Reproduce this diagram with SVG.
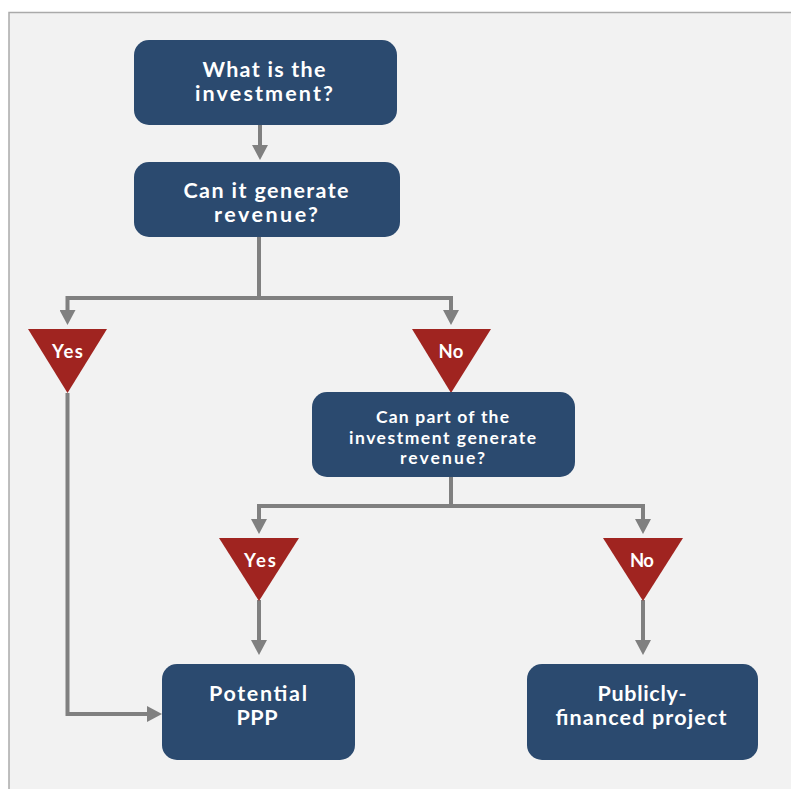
<svg xmlns="http://www.w3.org/2000/svg" width="791" height="789" viewBox="0 0 791 789">
  <style>
    .box { fill: #2B4A6F; }
    .tri { fill: #A02420; }
    .txt { fill: #FFFFFF; font-family: Lato, "Open Sans", "Liberation Sans", sans-serif; font-weight: bold; text-anchor: middle; }
    .big { font-size: 21.5px; }
    .mid { font-size: 17.5px; }
    .lbl { font-size: 18.5px; }
    .wire { fill: none; stroke: #808080; stroke-width: 4; stroke-linejoin: miter; marker-end: url(#head); }
  </style>
  <defs>
    <marker id="head" viewBox="0 0 15 16" refX="0" refY="8" markerWidth="15" markerHeight="16" markerUnits="userSpaceOnUse" orient="auto">
      <path d="M0,0 L15,8 L0,16 Z" fill="#808080"/>
    </marker>
  </defs>

  <!-- page background and frame -->
  <rect x="0" y="0" width="791" height="789" fill="#FFFFFF"/>
  <rect x="9" y="12" width="782" height="777" fill="#F2F2F2"/>
  <path d="M9,789 V12.5 H791" fill="none" stroke="#AAAAAA" stroke-width="1.5"/>

  <!-- connectors -->
  <g id="connectors">
    <path class="wire" d="M260,125 V145"/>
    <path class="wire" d="M259,237 V298 H67.5 V310"/>
    <path class="wire" d="M259,298 H451 V310"/>
    <path class="wire" d="M67.5,393 V714 H147"/>
    <path class="wire" d="M451,477 V506 H259 V519"/>
    <path class="wire" d="M451,506 H643 V519"/>
    <path class="wire" d="M259,600 V640"/>
    <path class="wire" d="M643,600 V640"/>
  </g>

  <!-- nodes -->
  <g id="q-investment">
    <rect class="box" x="134" y="40" width="263" height="85" rx="15"/>
    <text class="txt big" x="264" y="77" textLength="123" lengthAdjust="spacing">What is the</text>
    <text class="txt big" x="264" y="101" textLength="138" lengthAdjust="spacing">investment?</text>
  </g>

  <g id="q-revenue">
    <rect class="box" x="134" y="162" width="266" height="75" rx="15"/>
    <text class="txt big" x="266" y="198" textLength="165" lengthAdjust="spacing">Can it generate</text>
    <text class="txt big" x="266" y="222" textLength="104" lengthAdjust="spacing">revenue?</text>
  </g>

  <g id="yes-1">
    <polygon class="tri" points="28,329 107,329 67.5,393"/>
    <text class="txt lbl" x="67.5" y="358" textLength="31" lengthAdjust="spacing">Yes</text>
  </g>

  <g id="no-1">
    <polygon class="tri" points="412,329 491,329 451,393"/>
    <text class="txt lbl" x="451" y="358" textLength="25" lengthAdjust="spacing">No</text>
  </g>

  <g id="q-part-revenue">
    <rect class="box" x="312" y="392" width="263" height="85" rx="15"/>
    <text class="txt mid" x="442.5" y="423" textLength="133" lengthAdjust="spacing">Can part of the</text>
    <text class="txt mid" x="442.5" y="444" textLength="187" lengthAdjust="spacing">investment generate</text>
    <text class="txt mid" x="442.5" y="464" textLength="85" lengthAdjust="spacing">revenue?</text>
  </g>

  <g id="yes-2">
    <polygon class="tri" points="219,538 299,538 259,601"/>
    <text class="txt lbl" x="260" y="567" textLength="32" lengthAdjust="spacing">Yes</text>
  </g>

  <g id="no-2">
    <polygon class="tri" points="603,538 683,538 643,601"/>
    <text class="txt lbl" x="642" y="567" textLength="24" lengthAdjust="spacing">No</text>
  </g>

  <g id="potential-ppp">
    <rect class="box" x="162" y="664" width="193" height="96" rx="15"/>
    <text class="txt big" x="258" y="700.5" textLength="98" lengthAdjust="spacing">Potential</text>
    <text class="txt big" x="257" y="724.5" textLength="41" lengthAdjust="spacing">PPP</text>
  </g>

  <g id="public-project">
    <rect class="box" x="527" y="664" width="231" height="96" rx="15"/>
    <text class="txt big" x="642" y="700.5" textLength="89" lengthAdjust="spacing">Publicly-</text>
    <text class="txt big" x="641" y="724.5" textLength="171" lengthAdjust="spacing">financed project</text>
  </g>
</svg>
